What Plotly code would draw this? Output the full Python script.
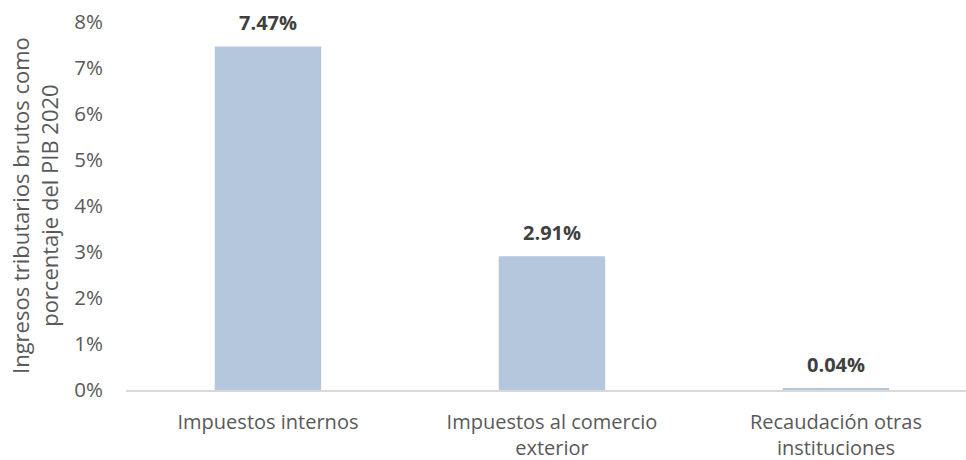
import plotly.graph_objects as go

categories = ["Impuestos internos", "Impuestos al comercio<br>exterior", "Recaudación otras<br>instituciones"]
values = [7.47, 2.91, 0.04]
labels = ["7.47%", "2.91%", "0.04%"]
y_ticks = [0, 1, 2, 3, 4, 5, 6, 7, 8]
y_title = "Ingresos tributarios brutos como<br>porcentaje del PIB 2020"

FONT = "'Open Sans', sans-serif"

fig = go.Figure()
fig.add_trace(go.Bar(
    x=list(range(len(categories))), y=values,
    marker=dict(color="#b4c7dc", line=dict(width=0)),
    width=0.375,
    hoverinfo="skip",
))

for i, (v, t) in enumerate(zip(values, labels)):
    fig.add_annotation(x=i, y=v, text="<b>" + t + "</b>", showarrow=False,
                       yanchor="middle", yshift=24,
                       font=dict(family=FONT, size=20, color="#404040"))

fig.add_annotation(xref="paper", yref="paper", x=(34 - 126) / 840, y=0.5,
                   text=y_title, textangle=-90, showarrow=False,
                   xanchor="center", yanchor="middle",
                   font=dict(family=FONT, size=22, color="#595959"))

fig.update_layout(
    width=966, height=460,
    margin=dict(l=126, r=0, t=22, b=70),
    paper_bgcolor="white", plot_bgcolor="white",
    showlegend=False,
    font=dict(family=FONT, size=20, color="#595959"),
    xaxis=dict(
        range=[-0.5, 2.458], tickmode="array",
        tickvals=list(range(len(categories))), ticktext=categories,
        showgrid=False, zeroline=False, automargin=False,
        showline=True, linecolor="#d9d9d9", linewidth=1.5,
        ticks="", ticklabelstandoff=13,
        tickfont=dict(family=FONT, size=20, color="#595959"),
    ),
    yaxis=dict(
        range=[0, 8], tickmode="array", tickvals=y_ticks,
        ticktext=[f"{t}%" for t in y_ticks], automargin=False,
        showgrid=False, zeroline=False, showline=False,
        ticks="", ticklabelstandoff=22,
        tickfont=dict(family=FONT, size=20.5, color="#595959"),
    ),
)

fig.write_html("out.html", config={"displayModeBar": False},
               post_script="document.body.style.margin='0';document.body.style.overflow='hidden';")
